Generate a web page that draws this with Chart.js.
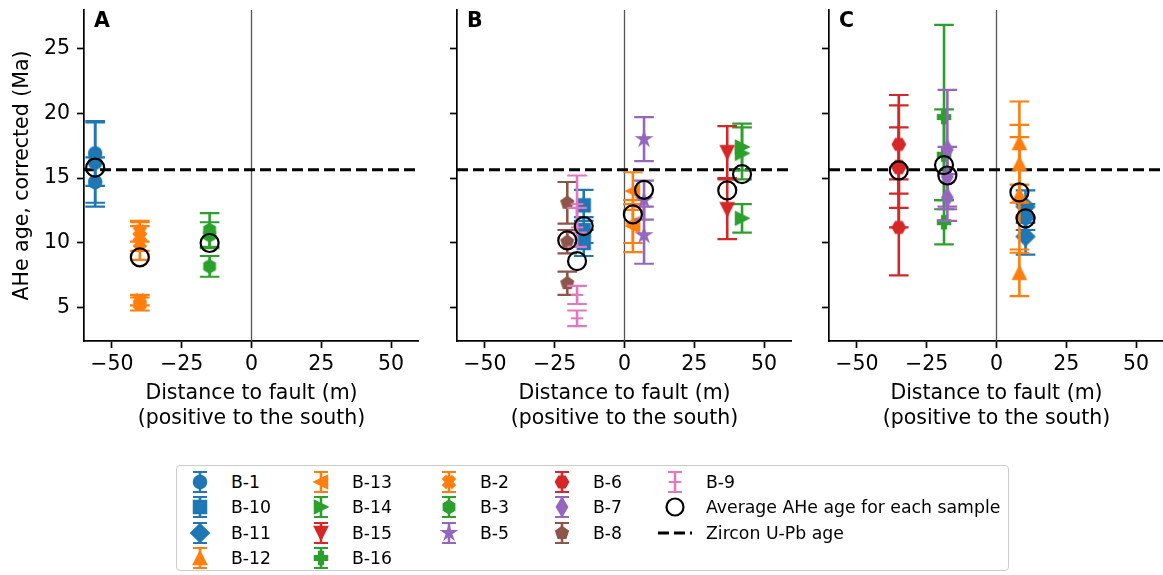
<!DOCTYPE html>
<html>
<head>
<meta charset="utf-8">
<script src="https://cdn.jsdelivr.net/npm/chart.js@4.4.0/dist/chart.umd.min.js"></script>
<style>
  body { margin: 0; width: 1163px; height: 575px; overflow: hidden; background: #fff; position: relative; font-family: 'DejaVu Sans', sans-serif; }
  canvas.panel { position: absolute; top: 0; }
  #legend { position: absolute; left: 176px; top: 465px; width: 833px; height: 106px; border: 1px solid #cccccc; border-radius: 4px; box-sizing: border-box; }
  .lg-text { position: absolute; font-size: 17.3px; color: #000; line-height: 20px; white-space: nowrap; }
  .lg-icon { position: absolute; }
</style>
</head>
<body>
<canvas id="panelA" class="panel" width="419" height="431" style="left:0px"></canvas>
<canvas id="panelB" class="panel" width="352" height="431" style="left:440px"></canvas>
<canvas id="panelC" class="panel" width="352" height="431" style="left:812px"></canvas>
<div id="legend"></div>
<script>
const xTicks = [-50, -25, 0, 25, 50];
const yTicks = [5, 10, 15, 20, 25];
const panels = ['A', 'B', 'C'];

const sampleNames = ['B-1', 'B-10', 'B-11', 'B-12', 'B-13', 'B-14', 'B-15', 'B-16',
                     'B-2', 'B-3', 'B-5', 'B-6', 'B-7', 'B-8', 'B-9'];
const samplePanel = ['A', 'B', 'C', 'C', 'B', 'B', 'B', 'C', 'A', 'A', 'B', 'C', 'C', 'B', 'B'];
const sampleDistance = [-56, -14.6, 10.4, 8.2, 3, 42.1, 36.8, -18.8, -40, -15, 7, -35, -17.6, -20.5, -17];
// single-grain ages (Ma) and their 1-sigma errors
const aliquotAges = [
  [16.9, 16.2, 14.7],
  [12.9, 11.0, 10.0],
  [12.8, 12.0, 10.5],
  [17.7, 16.1, 13.7, 7.7],
  [14.0, 11.5, 11.3],
  [17.4, 16.9, 11.9],
  [17.0, 12.6],
  [19.7, 16.8, 11.6],
  [10.9, 10.5, 10.0, 5.6, 5.3],
  [11.0, 10.6, 8.2],
  [18.0, 13.3, 10.6],
  [17.6, 15.9, 15.8, 11.2],
  [17.2, 15.1, 13.5],
  [13.1, 10.1, 6.9],
  [13.0, 11.2, 6.0, 4.2]
];
const aliquotErrors = [
  [2.5, 3.1, 1.9],
  [1.2, 1.0, 1.0],
  [1.25, 1.0, 1.4],
  [3.2, 3.0, 4.45, 1.8],
  [1.45, 1.5, 2.0],
  [1.8, 2.0, 1.1],
  [2.0, 2.3],
  [7.1, 3.5, 1.7],
  [0.8, 1.1, 1.3, 0.4, 0.5],
  [1.3, 1.0, 0.8],
  [1.7, 1.5, 2.2],
  [3.8, 4.7, 3.1, 3.7],
  [4.6, 2.3, 1.8],
  [1.6, 0.9, 0.9],
  [2.2, 1.5, 0.7, 0.6]
];
const averageAges = [15.8, 11.3, 11.9, 13.9, 12.2, 15.3, 14.05, 16.0, 8.9, 10.0, 14.1, 15.6, 15.2, 10.2, 8.6];
const zirconAge = 15.64;

// styles
const tab10 = { blue: '#1f77b4', orange: '#ff7f0e', green: '#2ca02c', red: '#d62728',
                purple: '#9467bd', brown: '#8c564b', pink: '#e377c2' };
const sampleColor = { 'B-1': 'blue', 'B-10': 'blue', 'B-11': 'blue', 'B-12': 'orange', 'B-13': 'orange',
  'B-14': 'green', 'B-15': 'red', 'B-16': 'green', 'B-2': 'orange', 'B-3': 'green', 'B-5': 'purple',
  'B-6': 'red', 'B-7': 'purple', 'B-8': 'brown', 'B-9': 'pink' };
const sampleMarker = { 'B-1': 'o', 'B-10': 's', 'B-11': 'D', 'B-12': '^', 'B-13': '<', 'B-14': '>',
  'B-15': 'v', 'B-16': 'P', 'B-2': 'X', 'B-3': 'h', 'B-5': '*', 'B-6': 'H', 'B-7': 'd', 'B-8': 'p', 'B-9': '+' };
const FONT = "'DejaVu Sans', sans-serif";
const yAxisWidth = { A: 84, B: 17, C: 17 };

// matplotlib-like marker drawn into a small canvas (used as pointStyle)
function markerCanvas(shape, color) {
  const n = 26, h = 12.5 / 2;
  const c = document.createElement('canvas');
  c.width = n; c.height = n;
  const g = c.getContext('2d');
  g.translate(n / 2, n / 2);
  g.fillStyle = color; g.strokeStyle = color; g.lineWidth = 2;
  const poly = pts => { g.beginPath(); pts.forEach((p, i) => i ? g.lineTo(p[0], p[1]) : g.moveTo(p[0], p[1])); g.closePath(); };
  const regular = (nv, r, rot) => poly(Array.from({ length: nv }, (_, i) => {
    const a = rot + i * 2 * Math.PI / nv; return [r * Math.sin(a), -r * Math.cos(a)];
  }));
  const plus = [[-0.5, -1.5], [0.5, -1.5], [0.5, -0.5], [1.5, -0.5], [1.5, 0.5], [0.5, 0.5],
                [0.5, 1.5], [-0.5, 1.5], [-0.5, 0.5], [-1.5, 0.5], [-1.5, -0.5], [-0.5, -0.5]];
  const d = h * Math.SQRT2;
  switch (shape) {
    case 'o': g.beginPath(); g.arc(0, 0, h, 0, 2 * Math.PI); break;
    case 's': poly([[-h, -h], [h, -h], [h, h], [-h, h]]); break;
    case 'D': poly([[0, -d], [d, 0], [0, d], [-d, 0]]); break;
    case 'd': poly([[0, -d], [d * 0.6, 0], [0, d], [-d * 0.6, 0]]); break;
    case '^': poly([[0, -h], [h, h], [-h, h]]); break;
    case 'v': poly([[0, h], [h, -h], [-h, -h]]); break;
    case '<': poly([[-h, 0], [h, -h], [h, h]]); break;
    case '>': poly([[h, 0], [-h, -h], [-h, h]]); break;
    case 'p': regular(5, h, 0); break;
    case 'h': regular(6, h, 0); break;
    case 'H': regular(6, h, Math.PI / 6); break;
    case '*': poly(Array.from({ length: 10 }, (_, i) => {
        const r = i % 2 ? h * 0.382 : h * 1.05, a = i * Math.PI / 5;
        return [r * Math.sin(a), -r * Math.cos(a)];
      })); break;
    case 'P': poly(plus.map(p => [p[0] * 2 * h / 3, p[1] * 2 * h / 3])); break;
    case 'X': {
      const k = Math.SQRT1_2 * 2 * h / 3;
      poly(plus.map(p => [(p[0] - p[1]) * k, (p[0] + p[1]) * k])); break;
    }
    case '+':
      g.beginPath(); g.moveTo(-h, 0); g.lineTo(h, 0); g.moveTo(0, -h); g.lineTo(0, h);
      g.stroke(); return c;
  }
  g.fill(); g.stroke();
  return c;
}

const errorBars = {
  id: 'errorBars',
  beforeDatasetDraw(chart, args) {
    const ds = chart.data.datasets[args.index];
    if (!ds.errors) return;
    const ys = chart.scales.y, ctx = chart.ctx;
    ctx.save();
    ctx.strokeStyle = ds.barColor;
    args.meta.data.forEach((pt, i) => {
      const v = ds.data[i].y, e = ds.errors[i];
      const top = ys.getPixelForValue(v + e), bot = ys.getPixelForValue(v - e);
      ctx.lineWidth = 2.6;
      ctx.beginPath(); ctx.moveTo(pt.x, top); ctx.lineTo(pt.x, bot); ctx.stroke();
      ctx.lineWidth = 2.2;
      ctx.beginPath();
      ctx.moveTo(pt.x - 9.8, top); ctx.lineTo(pt.x + 9.8, top);
      ctx.moveTo(pt.x - 9.8, bot); ctx.lineTo(pt.x + 9.8, bot);
      ctx.stroke();
    });
    ctx.restore();
  }
};

const refLines = {
  id: 'refLines',
  beforeDatasetsDraw(chart) {
    const { ctx, chartArea: a, scales: { x, y } } = chart;
    ctx.save();
    const x0 = x.getPixelForValue(0);
    ctx.strokeStyle = '#555'; ctx.lineWidth = 1.3;
    ctx.beginPath(); ctx.moveTo(x0, a.top); ctx.lineTo(x0, a.bottom); ctx.stroke();
    const yz = y.getPixelForValue(zirconAge);
    ctx.strokeStyle = '#000'; ctx.lineWidth = 3; ctx.setLineDash([11, 5]);
    ctx.beginPath(); ctx.moveTo(a.left, yz); ctx.lineTo(a.right, yz); ctx.stroke();
    ctx.restore();
  },
  afterDraw(chart, args, opts) {
    const { ctx, chartArea: a } = chart;
    ctx.save();
    ctx.fillStyle = '#000';
    ctx.font = "bold 20.5px 'DejaVu Sans'";
    ctx.textBaseline = 'alphabetic';
    ctx.fillText(opts.letter, a.left + 10, a.top + 17);
    ctx.restore();
  }
};

panels.forEach((p, pi) => {
  const datasets = [];
  const inPanel = [];
  sampleNames.forEach((name, k) => {
    if (samplePanel[k] !== p) return;
    inPanel.push(k);
    const col = tab10[sampleColor[name]];
    datasets.push({
      label: name,
      data: aliquotAges[k].map(v => ({ x: sampleDistance[k], y: v })),
      errors: aliquotErrors[k],
      barColor: col,
      pointStyle: markerCanvas(sampleMarker[name], col),
      pointRadius: 6,
      borderColor: col,
      backgroundColor: col,
      order: 100 - k
    });
  });
  datasets.push({
    label: 'Average AHe age for each sample',
    data: inPanel.map(k => ({ x: sampleDistance[k], y: averageAges[k] })),
    pointStyle: 'circle',
    pointRadius: 9,
    borderColor: '#000',
    borderWidth: 2.2,
    backgroundColor: 'rgba(0,0,0,0)',
    order: 0
  });

  new Chart(document.getElementById('panel' + p), {
    type: 'scatter',
    data: { datasets },
    options: {
      responsive: false,
      animation: false,
      events: [],
      layout: { autoPadding: false, padding: { top: 10, left: 0, right: 0, bottom: 0 } },
      plugins: { legend: { display: false }, tooltip: { enabled: false }, refLines: { letter: p } },
      scales: {
        x: {
          type: 'linear', min: -60, max: 60,
          afterBuildTicks: s => { s.ticks = xTicks.map(v => ({ value: v })); },
          afterFit: s => { s.height = 90; s.paddingLeft = 0; s.paddingRight = 0; },
          ticks: { callback: v => String(v).replace('-', '\u2212'), font: { family: FONT, size: 20.5 },
                   color: '#000', padding: 4, maxRotation: 0, autoSkip: false },
          grid: { drawOnChartArea: false, tickLength: 7, tickWidth: 1.7, tickColor: '#000' },
          border: { color: '#000', width: 1.7 },
          title: { display: true, text: ['Distance to fault (m)', '(positive to the south)'],
                   font: { family: FONT, size: 20.5 }, color: '#000', padding: 0 }
        },
        y: {
          type: 'linear', min: 2.45, max: 27.95,
          afterBuildTicks: s => { s.ticks = yTicks.map(v => ({ value: v })); },
          afterFit: s => { s.width = yAxisWidth[p]; s.paddingTop = 0; s.paddingBottom = 0; },
          ticks: { display: pi === 0, font: { family: FONT, size: 20.5 }, color: '#000', padding: 7 },
          grid: { drawOnChartArea: false, tickLength: 7, tickWidth: 1.7, tickColor: '#000' },
          border: { color: '#000', width: 1.7 },
          title: { display: pi === 0, text: 'AHe age, corrected (Ma)', font: { family: FONT, size: 20.5 },
                   color: '#000', padding: { top: 10.5, bottom: 0 } }
        }
      }
    },
    plugins: [errorBars, refLines]
  });
});

// legend (matplotlib-style, 5 columns, filled column by column)
const legendItems = sampleNames.map(n => ({ kind: 'sample', name: n }))
  .concat([{ kind: 'avg', name: 'Average AHe age for each sample' }, { kind: 'zircon', name: 'Zircon U-Pb age' }]);
const legendColumns = [4, 4, 3, 3, 3];
const legendIconX = [200, 321, 449, 562, 675];
const legendTextX = [231, 352, 480, 593, 706];
const legendRowY = [481.5, 507, 532.5, 558];

function legendIcon(item) {
  const c = document.createElement('canvas');
  c.width = 40; c.height = 26;
  const g = c.getContext('2d');
  if (item.kind === 'sample') {
    const col = tab10[sampleColor[item.name]];
    g.strokeStyle = col;
    g.lineWidth = 2.6;
    g.beginPath(); g.moveTo(20, 3); g.lineTo(20, 23); g.stroke();
    g.lineWidth = 2.2;
    g.beginPath(); g.moveTo(13, 3); g.lineTo(27, 3); g.moveTo(13, 23); g.lineTo(27, 23); g.stroke();
    g.drawImage(markerCanvas(sampleMarker[item.name], col), 7, 0);
  } else if (item.kind === 'avg') {
    g.strokeStyle = '#000'; g.lineWidth = 2.2;
    g.beginPath(); g.arc(20, 13, 8.5, 0, 2 * Math.PI); g.stroke();
  } else {
    g.strokeStyle = '#000'; g.lineWidth = 3; g.setLineDash([11, 5]);
    g.beginPath(); g.moveTo(3, 13); g.lineTo(37, 13); g.stroke();
  }
  return c;
}

let idx = 0;
legendColumns.forEach((count, ci) => {
  for (let r = 0; r < count; r++) {
    const item = legendItems[idx++];
    const icon = legendIcon(item);
    icon.className = 'lg-icon';
    icon.style.left = (legendIconX[ci] - 20) + 'px';
    icon.style.top = (legendRowY[r] - 13) + 'px';
    document.body.appendChild(icon);
    const t = document.createElement('div');
    t.className = 'lg-text';
    t.textContent = item.name;
    t.style.left = legendTextX[ci] + 'px';
    t.style.top = (legendRowY[r] - 10) + 'px';
    document.body.appendChild(t);
  }
});
</script>
</body>
</html>
